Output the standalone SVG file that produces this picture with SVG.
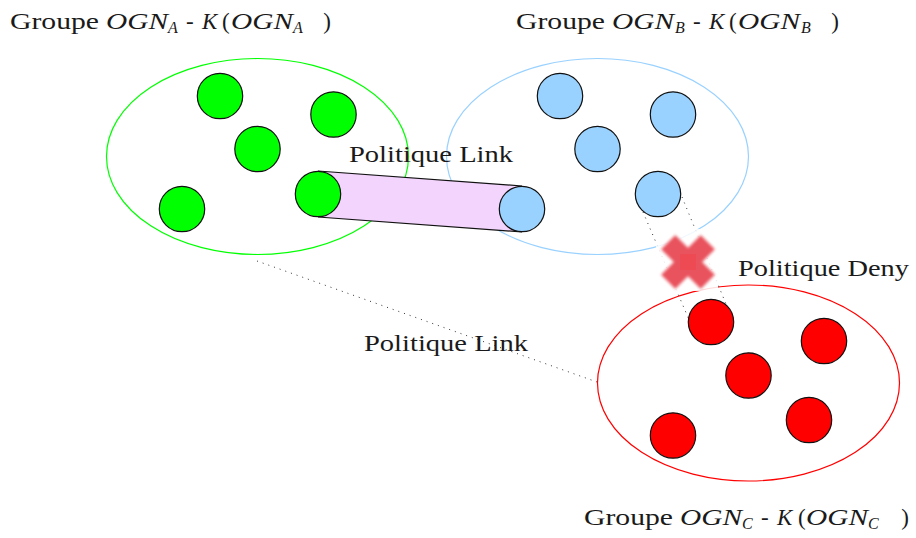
<svg xmlns="http://www.w3.org/2000/svg" width="916" height="538" viewBox="0 0 916 538">
<style>
text{font-family:"Liberation Serif","Times New Roman",serif;font-size:23px;fill:#1a1a1a}
.m{font-style:italic}
.s{font-size:16px;font-style:italic}
.d{fill:none;stroke:#333;stroke-width:1;stroke-dasharray:1 5}
.g{fill:#00ff00;stroke:#111;stroke-width:1.2}
.b{fill:#99d1ff;stroke:#111;stroke-width:1.2}
.r{fill:#ff0000;stroke:#111;stroke-width:1.2}
.e{fill:none;stroke-width:1.2}
</style>
<defs><filter id="bl" x="-20%" y="-20%" width="140%" height="140%"><feGaussianBlur stdDeviation="1.6"/></filter></defs>
<rect width="916" height="538" fill="#fff"/>
<g id="group-a"><ellipse class="e" stroke="#00ff00" cx="257.500" cy="156.500" rx="151" ry="98"/></g>
<g id="group-b"><ellipse class="e" stroke="#99d1ff" cx="597.500" cy="156.500" rx="151" ry="98"/></g>
<g id="group-c"><ellipse class="e" stroke="#ff0000" cx="748.500" cy="383" rx="151" ry="98"/></g>
<g id="connectors">
<path d="M318 171 L522 186 L522 232 L318 217Z" fill="#f2d4fc" stroke="none"/>
<path d="M318 171 L522 186 M318 217 L522 232" fill="none" stroke="#111" stroke-width="1.200"/>
<path class="d" d="M257 261 L597 382"/>
<path class="d" d="M643 212 L690 322"/>
<path class="d" d="M682 197 L726 304"/>
</g>
<g id="cross">
<rect x="656" y="229" width="62" height="62" fill="#fff" opacity=".85"/>
<g filter="url(#bl)" fill="#e9525d" transform="rotate(45 688 262)"><rect x="660" y="252" width="56" height="20"/><rect x="678" y="234" width="20" height="56"/></g>
<rect x="680" y="254" width="16" height="16" fill="#f0444c" opacity=".6"/>
</g>
<g id="a1"><circle class="g" cx="220" cy="96" r="22.700"/></g>
<g id="a2"><circle class="g" cx="333.500" cy="114.500" r="22.700"/></g>
<g id="a3"><circle class="g" cx="257.500" cy="149" r="22.700"/></g>
<g id="a4"><circle class="g" cx="182" cy="209" r="22.700"/></g>
<g id="a5"><circle class="g" cx="318" cy="194" r="22.700"/></g>
<g id="b1"><circle class="b" cx="560" cy="96" r="22.700"/></g>
<g id="b2"><circle class="b" cx="673" cy="114.500" r="22.700"/></g>
<g id="b3"><circle class="b" cx="597.500" cy="149" r="22.700"/></g>
<g id="b4"><circle class="b" cx="658" cy="194" r="22.700"/></g>
<g id="b5"><circle class="b" cx="522" cy="209" r="22.700"/></g>
<g id="c1"><circle class="r" cx="711" cy="322" r="22.700"/></g>
<g id="c2"><circle class="r" cx="824" cy="341" r="22.700"/></g>
<g id="c3"><circle class="r" cx="748.500" cy="375.500" r="22.700"/></g>
<g id="c4"><circle class="r" cx="809" cy="420" r="22.700"/></g>
<g id="c5"><circle class="r" cx="673" cy="435.500" r="22.700"/></g>
<g id="labels">
<text x="10" y="29" textLength="89" lengthAdjust="spacingAndGlyphs">Groupe</text>
<text class="m" x="106" y="29" textLength="62" lengthAdjust="spacingAndGlyphs">OGN</text><text class="s" x="168" y="33">A</text>
<text x="186" y="29">-</text>
<text class="m" x="202" y="29">K</text><text x="222" y="29">(</text>
<text class="m" x="231" y="29" textLength="62" lengthAdjust="spacingAndGlyphs">OGN</text><text class="s" x="293" y="33">A</text>
<text x="327" y="29" text-anchor="middle">)</text>

<text x="516" y="29" textLength="89" lengthAdjust="spacingAndGlyphs">Groupe</text>
<text class="m" x="612" y="29" textLength="62" lengthAdjust="spacingAndGlyphs">OGN</text><text class="s" x="675" y="33">B</text>
<text x="693" y="29">-</text>
<text class="m" x="709" y="29">K</text><text x="729" y="29">(</text>
<text class="m" x="738" y="29" textLength="62" lengthAdjust="spacingAndGlyphs">OGN</text><text class="s" x="801" y="33">B</text>
<text x="835" y="29" text-anchor="middle">)</text>

<text x="584" y="525" textLength="89" lengthAdjust="spacingAndGlyphs">Groupe</text>
<text class="m" x="680" y="525" textLength="62" lengthAdjust="spacingAndGlyphs">OGN</text><text class="s" x="742" y="529">C</text>
<text x="761" y="525">-</text>
<text class="m" x="777" y="525">K</text><text x="798" y="525">(</text>
<text class="m" x="806" y="525" textLength="62" lengthAdjust="spacingAndGlyphs">OGN</text><text class="s" x="868" y="529">C</text>
<text x="905" y="525" text-anchor="middle">)</text>

<text x="349" y="162" textLength="164" lengthAdjust="spacingAndGlyphs">Politique Link</text>
<text x="364" y="351" textLength="164" lengthAdjust="spacingAndGlyphs">Politique Link</text>
<text x="738" y="276" textLength="171" lengthAdjust="spacingAndGlyphs">Politique Deny</text>
</g>
</svg>
